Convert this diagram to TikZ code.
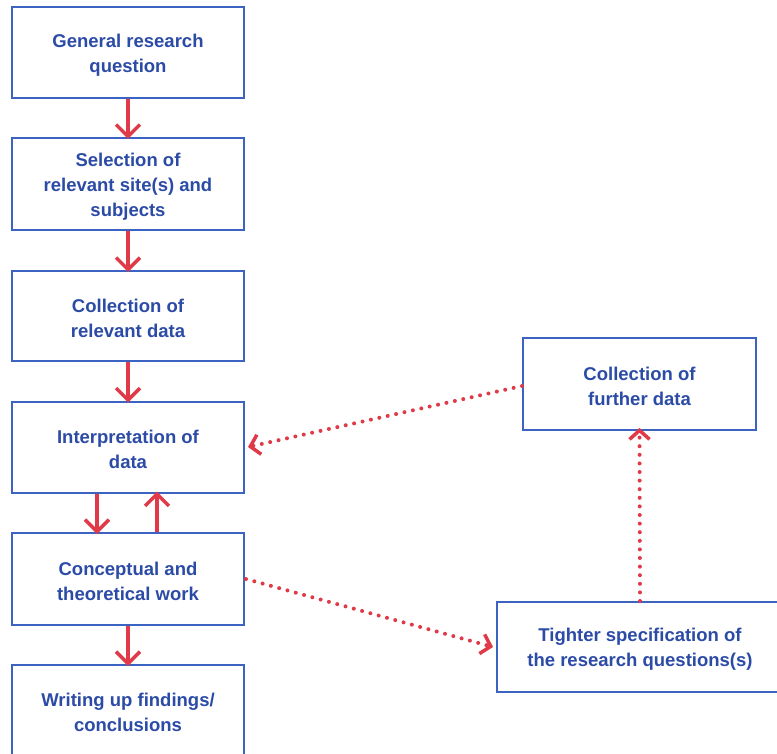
\documentclass[tikz,border=0pt]{standalone}
\usepackage{fontspec}
\setmainfont{Liberation Sans}
\usetikzlibrary{arrows.meta}
\definecolor{boxblue}{HTML}{3D63C2}
\definecolor{txtblue}{HTML}{2B4BA6}
\definecolor{flowred}{HTML}{E03A48}
\tikzset{
  stage/.style={draw=boxblue, line width=2pt, fill=white, rectangle,
    minimum width=232pt, inner sep=0pt},
  say/.style={align=center, text=txtblue, inner sep=0pt, yshift=-2.5pt,
    font=\bfseries\fontsize{18.5}{25}\selectfont},
  flow/.style={draw=flowred, line width=3.5pt,
    -{Straight Barb[length=12pt,width=24pt,line width=3.5pt]}},
  loop/.style={draw=flowred, line width=4pt, line cap=round,
    dash pattern=on 0pt off 8.6pt,
    -{Straight Barb[length=9pt,width=20pt,line width=3.5pt]}}
}
\begin{document}
\begin{tikzpicture}[x=1pt,y=-1pt]
\clip (0,0) rectangle (777,754);
\fill[white] (0,0) rectangle (777,754);

% main column
\node[stage, minimum height=91pt, label={[say]center:General research\\question}] (q) at (128,52.5) {};
\node[stage, minimum height=92pt, label={[say]center:Selection of\\relevant site(s) and\\subjects}] (sel) at (128,184) {};
\node[stage, minimum height=90pt, label={[say]center:Collection of\\relevant data}] (col) at (128,316) {};
\node[stage, minimum height=91pt, label={[say]center:Interpretation of\\data}] (int) at (128,447) {};
\node[stage, minimum height=92pt, label={[say]center:Conceptual and\\theoretical work}] (con) at (128,579) {};
\node[stage, minimum height=92pt, label={[say, yshift=1.5pt]center:Writing up findings/\\conclusions}] (wri) at (128,711) {};

% side loop
\node[stage, minimum width=233pt, minimum height=92pt, label={[say]center:Collection of\\further data}] (fur) at (639.5,384) {};
\node[stage, minimum width=286pt, minimum height=90pt, label={[say]center:Tighter specification of\\the research questions(s)}] (tig) at (640,647) {};

% solid flow
\draw[flow] (q.south) -- ([yshift=-2pt]sel.north);
\draw[flow] (sel.south) -- ([yshift=-2pt]col.north);
\draw[flow] (col.south) -- ([yshift=-2pt]int.north);
\draw[flow] ([xshift=-31pt]int.south) -- ([xshift=-31pt,yshift=-2pt]con.north);
\draw[flow] ([xshift=29pt]con.north) -- ([xshift=29pt,yshift=2pt]int.south);
\draw[flow] (con.south) -- ([yshift=-2pt]wri.north);

% dotted feedback loop
\draw[loop] ([yshift=-2pt]fur.west) -- ([xshift=3pt]int.east);
\draw[loop] ([xshift=1pt]con.east) -- ([xshift=-3pt]tig.west);
\draw[loop] (tig.north) -- ([yshift=3pt]fur.south);
\end{tikzpicture}
\end{document}
